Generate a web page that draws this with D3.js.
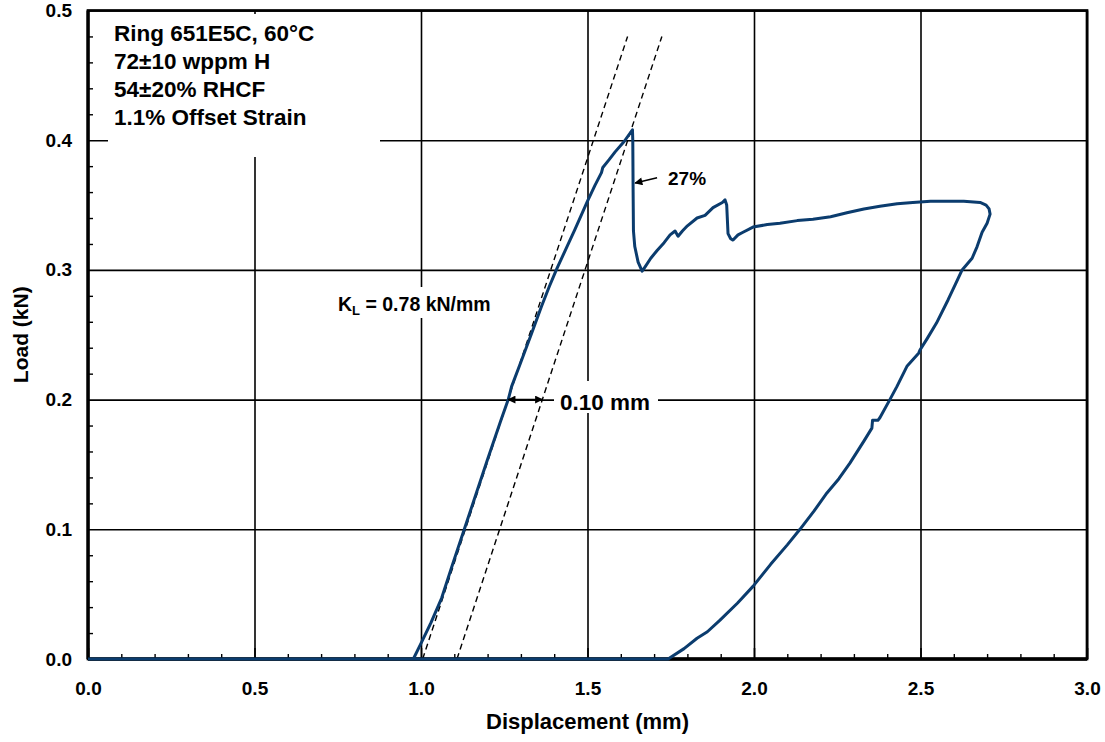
<!DOCTYPE html>
<html>
<head>
<meta charset="utf-8">
<script src="https://cdn.jsdelivr.net/npm/d3@7"></script>
<style>
	body { margin: 0; background: #fff; }
	svg text { font-family: "Liberation Sans", Arial, sans-serif; font-weight: bold; fill: #000; }
</style>
</head>
<body>
<svg id="svg_chart"></svg>
<script>
// ====================================================
// values
var x_ticks = [0.0, 0.5, 1.0, 1.5, 2.0, 2.5, 3.0];
var y_ticks = [0.0, 0.1, 0.2, 0.3, 0.4, 0.5];
var x_minor = [0.1, 0.2, 0.3, 0.4, 0.6, 0.7, 0.8, 0.9, 1.1, 1.2, 1.3, 1.4, 1.6, 1.7, 1.8, 1.9,
	2.1, 2.2, 2.3, 2.4, 2.6, 2.7, 2.8, 2.9];
var y_minor = [0.02, 0.04, 0.06, 0.08, 0.12, 0.14, 0.16, 0.18, 0.22, 0.24, 0.26, 0.28,
	0.32, 0.34, 0.36, 0.38, 0.42, 0.44, 0.46, 0.48];

// displacement (mm) and load (kN) of the test record
var disp = [0.0, 0.977, 1.0, 1.03, 1.062, 1.095, 1.13, 1.165, 1.2, 1.24, 1.262, 1.272, 1.30, 1.332,
	1.362, 1.385, 1.408, 1.435, 1.462, 1.5, 1.522, 1.542, 1.546, 1.565, 1.583, 1.61, 1.635,
	1.636, 1.637, 1.638, 1.642, 1.652, 1.664, 1.672, 1.69, 1.709, 1.73, 1.748, 1.763, 1.772,
	1.785, 1.80, 1.829, 1.853, 1.877, 1.905, 1.913, 1.918, 1.922, 1.93, 1.937, 1.952, 1.967, 1.997,
	2.04, 2.078, 2.13, 2.177, 2.23, 2.279, 2.33, 2.378, 2.43, 2.477, 2.53, 2.58, 2.63, 2.679,
	2.697, 2.706, 2.709, 2.70, 2.685, 2.67, 2.655, 2.625, 2.605, 2.583, 2.548, 2.52, 2.498,
	2.495, 2.46, 2.429, 2.408, 2.378, 2.372, 2.356, 2.354, 2.33, 2.288, 2.255, 2.219, 2.18,
	2.138, 2.10, 2.05, 1.997, 1.95, 1.898, 1.86, 1.829, 1.79, 1.742, 0.0];
var load = [0, 0, 0.012, 0.028, 0.047, 0.073, 0.1, 0.127, 0.154, 0.184, 0.2, 0.21, 0.229, 0.251,
	0.272, 0.287, 0.301, 0.316, 0.331, 0.353, 0.365, 0.375, 0.379, 0.385, 0.391, 0.399, 0.408,
	0.40, 0.36, 0.33, 0.318, 0.306, 0.299, 0.302, 0.309, 0.315, 0.321, 0.327, 0.330, 0.326,
	0.330, 0.334, 0.340, 0.342, 0.348, 0.352, 0.354, 0.35, 0.328, 0.324, 0.323, 0.327, 0.329, 0.333,
	0.335, 0.336, 0.338, 0.339, 0.341, 0.344, 0.347, 0.349, 0.351, 0.352, 0.353, 0.353, 0.353, 0.352,
	0.350, 0.347, 0.343, 0.336, 0.329, 0.318, 0.309, 0.300, 0.289, 0.277, 0.259, 0.247, 0.238,
	0.236, 0.226, 0.21, 0.2, 0.186, 0.184, 0.184, 0.178, 0.168, 0.151, 0.139, 0.128, 0.114,
	0.1, 0.088, 0.073, 0.056, 0.043, 0.030, 0.021, 0.016, 0.008, 0, 0];

// offset lines: start displacement, slope and top load
var offset_start = [1.005, 1.108];
var k_l = 0.78;
var offset_top = 0.48;

var note_lines = ["Ring 651E5C, 60°C", "72±10 wppm H", "54±20% RHCF", "1.1% Offset Strain"];

// ====================================================
var svg_width = 1105, svg_height = 742;
var margin = {top: 10.5, right: 18, bottom: 83, left: 88};
var width = svg_width - margin.left - margin.right;
var height = svg_height - margin.top - margin.bottom;

var x = d3.scaleLinear().domain([0, 3]).range([0, width]);
var y = d3.scaleLinear().domain([0, 0.5]).range([height, 0]);

var svg = d3.select("svg#svg_chart")
	.attr("width", svg_width)
	.attr("height", svg_height);

var defs = svg.append("defs");
defs.append("marker")
	.attr("id", "arrow")
	.attr("viewBox", "0 0 10 10")
	.attr("refX", 9).attr("refY", 5)
	.attr("markerWidth", 9).attr("markerHeight", 8)
	.attr("markerUnits", "userSpaceOnUse")
	.attr("orient", "auto-start-reverse")
	.append("path")
	.attr("d", "M0,0 L10,5 L0,10 Z")
	.attr("fill", "#000");

var g = svg.append("g")
	.attr("transform", "translate(" + margin.left + "," + margin.top + ")");

// ====================================================
// grid
g.append("g")
	.attr("class", "grid")
	.attr("transform", "translate(0," + height + ")")
	.call(d3.axisBottom(x).tickValues(x_ticks).tickSize(-height).tickFormat(""))
	.call(function(s) { s.select(".domain").remove(); })
	.selectAll("line").attr("stroke", "#000").attr("stroke-width", 1.6);

g.append("g")
	.attr("class", "grid")
	.call(d3.axisLeft(y).tickValues(y_ticks).tickSize(-width).tickFormat(""))
	.call(function(s) { s.select(".domain").remove(); })
	.selectAll("line").attr("stroke", "#000").attr("stroke-width", 1.6);

// white boxes behind the text (they hide the grid)
var boxes = [
	[108, 14, 272, 143],   // note block
	[333, 287, 165, 31],   // K_L label
	[554, 381, 104, 32],   // 0.10 mm
	[494, 607, 10, 31]     // empty box on the 1.5 line
];
g.selectAll("rect.box")
	.data(boxes)
	.enter().append("rect")
	.attr("class", "box")
	.attr("x", function(d) { return d[0] - margin.left; })
	.attr("y", function(d) { return d[1] - margin.top; })
	.attr("width", function(d) { return d[2]; })
	.attr("height", function(d) { return d[3]; })
	.attr("fill", "#fff");

// ====================================================
// minor and major ticks, pointing in
g.append("g")
	.attr("transform", "translate(0," + height + ")")
	.call(d3.axisBottom(x).tickValues(x_minor).tickSize(-5).tickFormat(""))
	.call(function(s) { s.select(".domain").remove(); })
	.selectAll("line").attr("stroke", "#000").attr("stroke-width", 1.4);

g.append("g")
	.attr("transform", "translate(0," + height + ")")
	.call(d3.axisBottom(x).tickValues(x_ticks).tickSize(-11).tickFormat(""))
	.call(function(s) { s.select(".domain").remove(); })
	.selectAll("line").attr("stroke", "#000").attr("stroke-width", 1.6);

g.append("g")
	.call(d3.axisLeft(y).tickValues(y_minor).tickSize(-5).tickFormat(""))
	.call(function(s) { s.select(".domain").remove(); })
	.selectAll("line").attr("stroke", "#000").attr("stroke-width", 1.4);

// ====================================================
// frame
g.append("rect")
	.attr("width", width).attr("height", height)
	.attr("fill", "none")
	.attr("stroke", "#000")
	.attr("stroke-width", 2.7);
g.append("line")
	.attr("x1", 0).attr("x2", width).attr("y1", height).attr("y2", height)
	.attr("stroke", "#000").attr("stroke-width", 3.4);
g.append("line")
	.attr("x1", 0).attr("x2", 0).attr("y1", 0).attr("y2", height)
	.attr("stroke", "#000").attr("stroke-width", 3.2);

// ====================================================
// offset lines (dashed)
var line = d3.line()
	.x(function(d) { return x(d[0]); })
	.y(function(d) { return y(d[1]); });

g.selectAll("path.offset")
	.data(offset_start)
	.enter().append("path")
	.attr("class", "offset")
	.attr("d", function(d) { return line([[d, 0], [d + offset_top / k_l, offset_top]]); })
	.attr("fill", "none")
	.attr("stroke", "#000")
	.attr("stroke-width", 1.4)
	.attr("stroke-dasharray", "6,4");

// the test curve, drawn over the axis line
var pts = disp.map(function(d, i) { return [d, load[i]]; });
g.append("path")
	.datum(pts)
	.attr("d", line)
	.attr("fill", "none")
	.attr("stroke", "#0b3c6e")
	.attr("stroke-width", 3)
	.attr("stroke-linejoin", "round");

// tick labels
g.append("g")
	.attr("transform", "translate(0," + height + ")")
	.call(d3.axisBottom(x).tickValues(x_ticks).tickSize(0).tickPadding(23).tickFormat(d3.format(".1f")))
	.call(function(s) { s.select(".domain").remove(); })
	.selectAll("text").style("font-size", "19px").attr("fill", "#000");

g.append("g")
	.call(d3.axisLeft(y).tickValues(y_ticks).tickSize(0).tickPadding(16).tickFormat(d3.format(".1f")))
	.call(function(s) { s.select(".domain").remove(); })
	.selectAll("text").style("font-size", "19px").attr("fill", "#000");

// axis titles
svg.append("text")
	.attr("x", margin.left + width / 2)
	.attr("y", 729)
	.attr("text-anchor", "middle")
	.style("font-size", "22px")
	.text("Displacement (mm)");

svg.append("text")
	.attr("transform", "translate(28," + (margin.top + height / 2) + ") rotate(-90)")
	.attr("text-anchor", "middle")
	.style("font-size", "21px")
	.text("Load (kN)");

// ====================================================
// notes
svg.selectAll("text.note")
	.data(note_lines)
	.enter().append("text")
	.attr("class", "note")
	.attr("x", 114)
	.attr("y", function(d, i) { return 41 + i * 28; })
	.style("font-size", "22.5px")
	.text(function(d) { return d; });

var kl = svg.append("text")
	.attr("x", 338).attr("y", 311)
	.style("font-size", "19.5px");
kl.append("tspan").text("K");
kl.append("tspan").attr("dy", 4).style("font-size", "13px").text("L");
kl.append("tspan").attr("dy", -4).text(" = " + k_l.toFixed(2) + " kN/mm");

svg.append("text")
	.attr("x", 560).attr("y", 410)
	.style("font-size", "22.5px")
	.text("0.10 mm");

svg.append("text")
	.attr("x", 668).attr("y", 185)
	.style("font-size", "19px")
	.text("27%");

// arrows
var y_arrow = 0.2;
g.append("line")
	.attr("x1", x(1.262)).attr("x2", x(offset_start[1] + y_arrow / k_l))
	.attr("y1", y(y_arrow)).attr("y2", y(y_arrow))
	.attr("stroke", "#000").attr("stroke-width", 1.6)
	.attr("marker-start", "url(#arrow)")
	.attr("marker-end", "url(#arrow)");

g.append("line")
	.attr("x1", x(1.709)).attr("y1", y(0.371))
	.attr("x2", x(1.643)).attr("y2", y(0.367))
	.attr("stroke", "#000").attr("stroke-width", 1.6)
	.attr("marker-end", "url(#arrow)");
</script>
</body>
</html>
